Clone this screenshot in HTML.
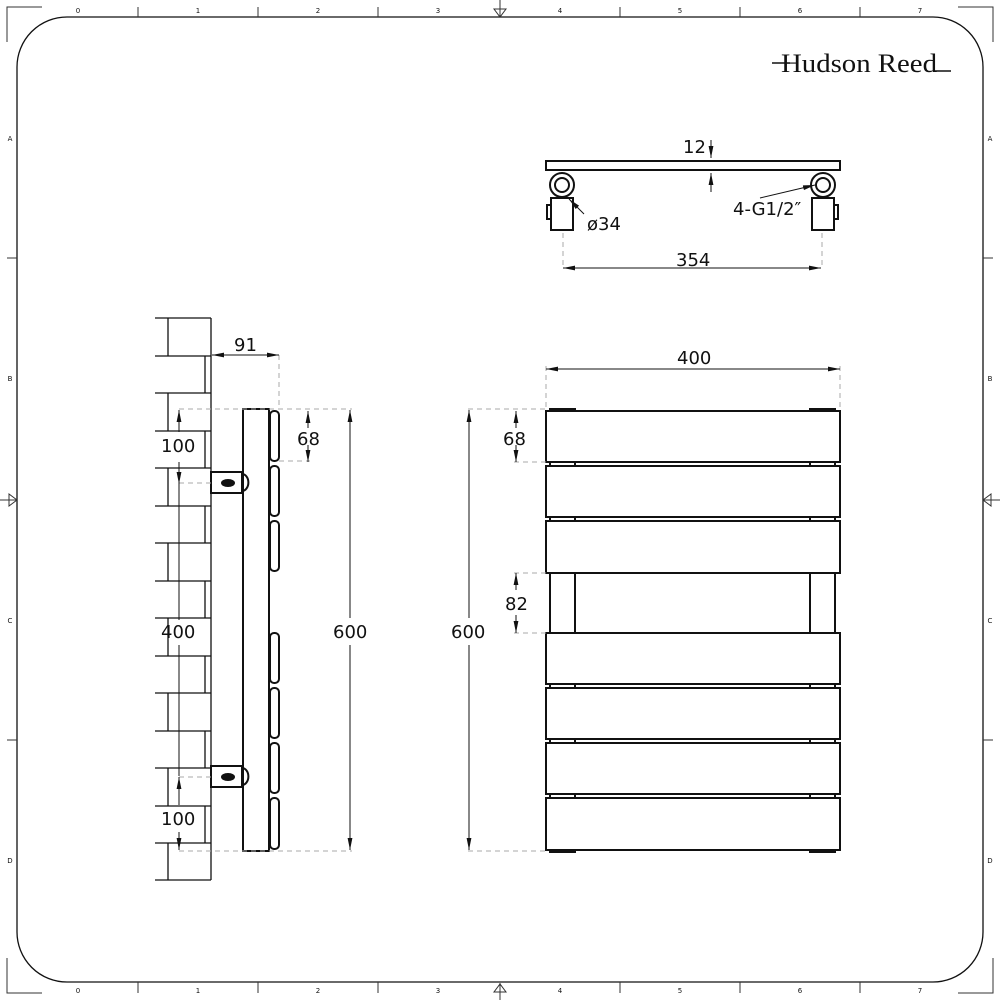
<!DOCTYPE html>
<html><head><style>
body{margin:0;background:#fff}
svg{display:block}
text{font-family:"DejaVu Sans","Liberation Sans",sans-serif;fill:#111}
</style></head><body>
<svg width="1000" height="1000" viewBox="0 0 1000 1000" xmlns="http://www.w3.org/2000/svg">
<defs>
<marker id="ar" viewBox="0 0 10 10" refX="10" refY="5" markerWidth="12" markerHeight="12" markerUnits="userSpaceOnUse" orient="auto-start-reverse"><path d="M0,3 L10,5 L0,7 z" fill="#111"/></marker>
</defs>
<!-- frame -->
<rect x="17" y="17" width="966" height="965" rx="50" ry="50" fill="none" stroke="#111" stroke-width="1.3"/>
<g stroke="#333" stroke-width="1" fill="none">
<path d="M7,42 V7 H42 M958,7 H993 V42 M7,958 V993 H42 M958,993 H993 V958"/>
<path d="M138,7V17 M258,7V17 M378,7V17 M620,7V17 M740,7V17 M860,7V17"/>
<path d="M138,982V993 M258,982V993 M378,982V993 M620,982V993 M740,982V993 M860,982V993"/>
<path d="M7,258H17 M7,740H17 M983,258H993 M983,740H993"/>
<path d="M494,9 L506,9 L500,17 z M500,0V17 M494,992 L506,992 L500,984 z M500,983V1000"/>
<path d="M9,494 L9,506 L17,500 z M0,500H17 M991,494 L991,506 L983,500 z M983,500H1000"/>
</g>
<g font-size="7" text-anchor="middle">
<text x="78" y="13">0</text><text x="198" y="13">1</text><text x="318" y="13">2</text><text x="438" y="13">3</text><text x="560" y="13">4</text><text x="680" y="13">5</text><text x="800" y="13">6</text><text x="920" y="13">7</text>
<text x="78" y="993">0</text><text x="198" y="993">1</text><text x="318" y="993">2</text><text x="438" y="993">3</text><text x="560" y="993">4</text><text x="680" y="993">5</text><text x="800" y="993">6</text><text x="920" y="993">7</text>
<text x="10" y="141">A</text><text x="10" y="381">B</text><text x="10" y="623">C</text><text x="10" y="863">D</text>
<text x="990" y="141">A</text><text x="990" y="381">B</text><text x="990" y="623">C</text><text x="990" y="863">D</text>
</g>
<!-- logo -->
<text x="781" y="72" font-size="26" textLength="156" lengthAdjust="spacingAndGlyphs" style="font-family:'Liberation Serif',serif">Hudson Reed</text>
<path d="M772,63H790 M934,71H951" stroke="#111" stroke-width="1.6"/>

<!-- top view -->
<g stroke="#111" stroke-width="2" fill="#fff">
<rect x="546" y="161" width="294" height="9"/>
<circle cx="562" cy="185" r="12"/><circle cx="562" cy="185" r="7"/>
<circle cx="823" cy="185" r="12"/><circle cx="823" cy="185" r="7"/>
<rect x="551" y="198" width="22" height="32"/><rect x="812" y="198" width="22" height="32"/>
<rect x="547" y="205" width="4" height="14"/><rect x="834" y="205" width="4" height="14"/>
</g>
<g stroke="#111" stroke-width="1" fill="none">
<path d="M711,140V158" marker-end="url(#ar)"/><path d="M711,192V173" marker-end="url(#ar)"/>
<path d="M584,214L569,199" marker-end="url(#ar)"/>
<path d="M760,198L815,185" marker-end="url(#ar)"/>
<path d="M563,268H821" marker-start="url(#ar)" marker-end="url(#ar)"/>
<path d="M563,233V268 M822,233V268" stroke="#aaa" stroke-dasharray="5,4"/>
</g>
<g font-size="18">
<text x="683" y="153">12</text><text x="587" y="230">ø34</text><text x="733" y="215">4-G1/2″</text><text x="676" y="266">354</text>
</g>

<!-- wall -->
<g stroke="#111" stroke-width="1.3" fill="none">
<path d="M211,318V880"/>
<path d="M155,318H211 M155,356H211 M155,393H211 M155,431H211 M155,468H211 M155,506H211 M155,543H211 M155,581H211 M155,618H211 M155,656H211 M155,693H211 M155,731H211 M155,768H211 M155,806H211 M155,843H211 M155,880H211"/>
<path d="M168,318V356 M205,356V393 M168,393V431 M205,431V468 M168,468V506 M205,506V543 M168,543V581 M205,581V618 M168,618V656 M205,656V693 M168,693V731 M205,731V768 M168,768V806 M205,806V843 M168,843V880"/>
</g>
<!-- side view radiator -->
<g stroke="#111" stroke-width="2" fill="#fff">
<rect x="243" y="409" width="26" height="442"/>
<rect x="270" y="411" width="9" height="50" rx="4"/>
<rect x="270" y="466" width="9" height="50" rx="4"/>
<rect x="270" y="521" width="9" height="50" rx="4"/>
<rect x="270" y="633" width="9" height="50" rx="4"/>
<rect x="270" y="688" width="9" height="50" rx="4"/>
<rect x="270" y="743" width="9" height="50" rx="4"/>
<rect x="270" y="798" width="9" height="51" rx="4"/>
<rect x="211" y="472" width="31" height="21"/>
<rect x="211" y="766" width="31" height="21"/>
<path d="M242,474 A6,8 0 0 1 242,491" fill="none"/>
<path d="M242,768 A6,8 0 0 1 242,785" fill="none"/>
</g>
<ellipse cx="228" cy="483" rx="7" ry="4" fill="#111"/><ellipse cx="228" cy="777" rx="7" ry="4" fill="#111"/>
<g stroke="#aaa" stroke-width="1" stroke-dasharray="5,4" fill="none">
<path d="M179,409H352 M179,851H352 M179,483H211 M179,777H211 M279,355V409 M279,461H310"/>
</g>
<g stroke="#111" stroke-width="1" fill="none">
<path d="M279,355H212" marker-end="url(#ar)"/><path d="M235,355H279" marker-end="url(#ar)"/>
<path d="M308,428V411" marker-end="url(#ar)"/><path d="M308,445V462" marker-end="url(#ar)"/>
<path d="M179,432V410" marker-end="url(#ar)"/><path d="M179,462V484" marker-end="url(#ar)"/>
<path d="M179,484V620 M179,645V776"/>
<path d="M179,805V777" marker-end="url(#ar)"/><path d="M179,832V850" marker-end="url(#ar)"/>
<path d="M350,618V410" marker-end="url(#ar)"/><path d="M350,645V850" marker-end="url(#ar)"/>
</g>
<g font-size="18">
<text x="234" y="351">91</text><text x="297" y="445">68</text><text x="161" y="452">100</text>
<text x="161" y="638">400</text><text x="333" y="638">600</text><text x="161" y="825">100</text>
</g>

<!-- front view -->
<g stroke="#111" stroke-width="2" fill="#fff">
<path d="M550,462V466 M575,462V466 M810,462V466 M835,462V466 M550,517V521 M575,517V521 M810,517V521 M835,517V521 M550,684V688 M575,684V688 M810,684V688 M835,684V688 M550,739V743 M575,739V743 M810,739V743 M835,739V743 M550,794V798 M575,794V798 M810,794V798 M835,794V798"/>
<rect x="550" y="573" width="25" height="60"/><rect x="810" y="573" width="25" height="60"/>
<rect x="546" y="411" width="294" height="51"/>
<rect x="546" y="466" width="294" height="51"/>
<rect x="546" y="521" width="294" height="52"/>
<rect x="546" y="633" width="294" height="51"/>
<rect x="546" y="688" width="294" height="51"/>
<rect x="546" y="743" width="294" height="51"/>
<rect x="546" y="798" width="294" height="52"/>
</g>
<g fill="#111"><rect x="549" y="408" width="27" height="3"/><rect x="809" y="408" width="27" height="3"/><rect x="549" y="850" width="27" height="3"/><rect x="809" y="850" width="27" height="3"/></g>
<g stroke="#aaa" stroke-width="1" stroke-dasharray="5,4" fill="none">
<path d="M468,409H546 M468,851H546 M514,462H546 M514,573H546 M514,633H546 M546,366V409 M840,366V409"/>
</g>
<g stroke="#111" stroke-width="1" fill="none">
<path d="M560,369H546" marker-end="url(#ar)"/><path d="M826,369H840" marker-end="url(#ar)"/><path d="M560,369H826"/>
<path d="M516,428V411" marker-end="url(#ar)"/><path d="M516,445V462" marker-end="url(#ar)"/>
<path d="M516,590V573" marker-end="url(#ar)"/><path d="M516,615V633" marker-end="url(#ar)"/>
<path d="M469,618V410" marker-end="url(#ar)"/><path d="M469,645V850" marker-end="url(#ar)"/>
</g>
<g font-size="18">
<text x="677" y="364">400</text><text x="503" y="445">68</text><text x="505" y="610">82</text><text x="451" y="638">600</text>
</g>
</svg>
</body></html>
